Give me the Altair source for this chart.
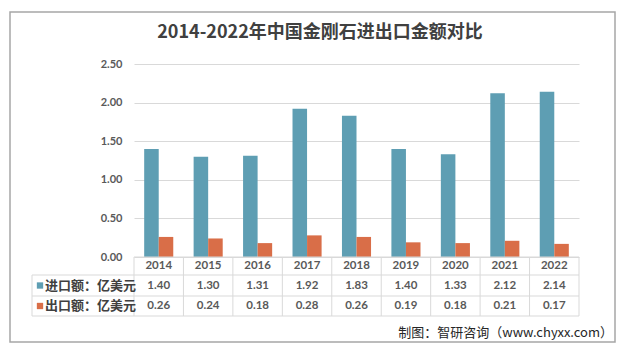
import altair as alt
import pandas as pd

years = ["2014", "2015", "2016", "2017", "2018", "2019", "2020", "2021", "2022"]
imports = [1.40, 1.30, 1.31, 1.92, 1.83, 1.40, 1.33, 2.12, 2.14]
exports = [0.26, 0.24, 0.18, 0.28, 0.26, 0.19, 0.18, 0.21, 0.17]
series = ["进口额：亿美元", "出口额：亿美元"]
colors = ["#5e9eb3", "#d96e48"]
title_text = "2014-2022年中国金刚石进出口金额对比"
source_text = "制图：智研咨询（www.chyxx.com）"

rows = []
for s, vals in zip(series, [imports, exports]):
    for y, v in zip(years, vals):
        rows.append({"year": y, "series": s, "value": v, "label": f"{v:.2f}"})
df = pd.DataFrame(rows)
ydf = pd.DataFrame({"year": years})
one = pd.DataFrame({"a": [0]})

W, H = 445, 193
L, T = 134, 64
GRID = "#d9d9d9"
TXT = "#595959"
NUMFONT = "Lato"
CJK = "Noto Sans CJK SC"

xenc = alt.X("year:N", sort=years, scale=alt.Scale(domain=years, paddingInner=0, paddingOuter=0), axis=None)
cscale = alt.Scale(domain=series, range=colors)

bars = alt.Chart(df).mark_bar().encode(
    x=xenc,
    xOffset=alt.XOffset("series:N", sort=series,
                        scale=alt.Scale(domain=series, paddingInner=0, paddingOuter=0.7)),
    y=alt.Y("value:Q", scale=alt.Scale(domain=[0, 2.5]),
            axis=alt.Axis(values=[0, 0.5, 1.0, 1.5, 2.0, 2.5], format=".2f", title=None,
                          domain=False, ticks=False, labelPadding=12, gridColor=GRID,
                          labelFont=NUMFONT, labelFontSize=11, labelFontWeight="bold",
                          labelColor=TXT)),
    color=alt.Color("series:N", scale=cscale, legend=None),
)

layers = []

# outer border
layers.append(alt.Chart(one).mark_rect(filled=False, stroke="#a6a6a6", strokeWidth=1.5).encode(
    x=alt.value(10 - L), x2=alt.value(615 - L), y=alt.value(12 - T), y2=alt.value(342 - T)))

# title
layers.append(alt.Chart(one).mark_text(fontSize=18, fontWeight="bold", font=CJK, color="#404040",
                                       align="center", baseline="middle").encode(
    x=alt.value(320 - L), y=alt.value(33 - T), text=alt.value(title_text)))

# table horizontal lines
for yy, x0 in [(257, 134), (275, 32), (296, 32), (316, 32)]:
    layers.append(alt.Chart(one).mark_rule(color=GRID, strokeWidth=1).encode(
        x=alt.value(x0 - L), x2=alt.value(W), y=alt.value(yy - T)))
# table vertical lines
layers.append(alt.Chart(ydf).mark_rule(color=GRID, strokeWidth=1).encode(
    x=alt.X("year:N", sort=years, bandPosition=0,
            scale=alt.Scale(domain=years, paddingInner=0, paddingOuter=0), axis=None),
    y=alt.value(257 - T), y2=alt.value(316 - T)))
layers.append(alt.Chart(one).mark_rule(color=GRID, strokeWidth=1).encode(
    x=alt.value(W), y=alt.value(257 - T), y2=alt.value(316 - T)))
layers.append(alt.Chart(one).mark_rule(color=GRID, strokeWidth=1).encode(
    x=alt.value(32 - L), y=alt.value(275 - T), y2=alt.value(316 - T)))

# year row
layers.append(alt.Chart(ydf).mark_text(font=NUMFONT, fontSize=11.5, fontWeight="bold", color=TXT,
                                       baseline="middle").encode(
    x=xenc, y=alt.value(266 - T), text="year:N"))

# value rows + labels
for s, rowy in zip(series, [285.5, 306]):
    layers.append(alt.Chart(df).transform_filter(alt.datum.series == s).mark_text(
        font=NUMFONT, fontSize=11.5, fontWeight="bold", color=TXT, baseline="middle").encode(
        x=xenc, y=alt.value(rowy - T), text="label:N"))
    layers.append(alt.Chart(pd.DataFrame({"series": [s]})).mark_square(size=40, opacity=1).encode(
        x=alt.value(40 - L), y=alt.value(rowy - T),
        color=alt.Color("series:N", scale=cscale, legend=None)))
    layers.append(alt.Chart(one).mark_text(font=CJK, fontSize=13, fontWeight="bold", color="#404040",
                                           align="left", baseline="middle").encode(
        x=alt.value(45 - L), y=alt.value(rowy - T), text=alt.value(s)))

# source
layers.append(alt.Chart(one).mark_text(font=CJK, fontSize=13, color="#262626",
                                       align="right", baseline="middle").encode(
    x=alt.value(613 - L), y=alt.value(333 - T), text=alt.value(source_text)))

chart = alt.layer(bars, *layers).properties(
    width=W, height=H,
    autosize=alt.AutoSizeParams(type="none"),
    padding={"left": L, "top": T, "right": 632 - L - W, "bottom": 351 - T - H},
    background="white",
).configure_view(stroke=None)

chart.save("out.html", embed_options={"renderer": "svg", "actions": False})
